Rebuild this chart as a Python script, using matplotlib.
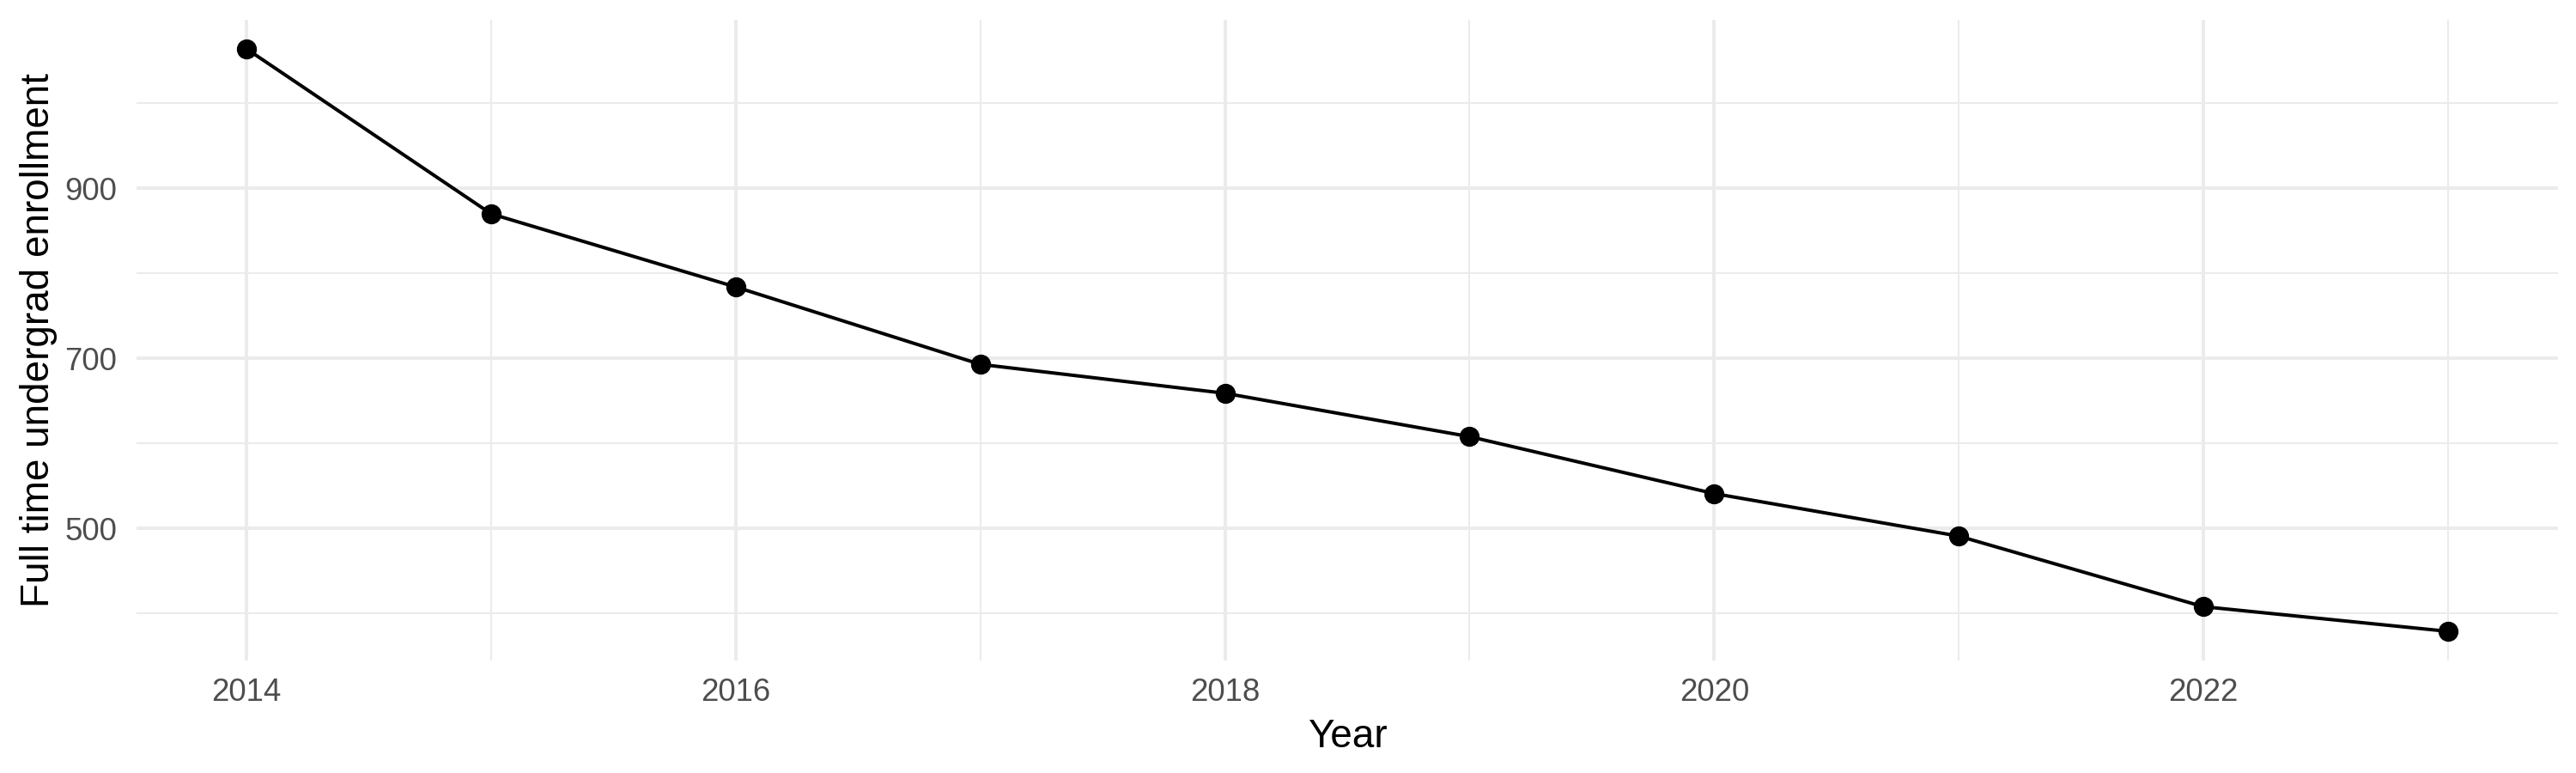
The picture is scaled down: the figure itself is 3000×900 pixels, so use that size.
import matplotlib
matplotlib.use("Agg")
import matplotlib.pyplot as plt
from matplotlib.ticker import MultipleLocator

plt.rcParams['font.family'] = ['Liberation Sans', 'DejaVu Sans']

# Full time undergrad enrollment by year
years = [2014, 2015, 2016, 2017, 2018, 2019, 2020, 2021, 2022, 2023]
enrollment = [1064, 870, 784, 693, 659, 608, 541, 491, 408, 379]

x_ticks = [2014, 2016, 2018, 2020, 2022]
y_ticks = [500, 700, 900]

fig = plt.figure(figsize=(10, 3), dpi=300)
ax = fig.add_axes([0.053, 0.1456, 0.940, 0.8288])

# ggplot-style expansion (5% each side)
xr = max(years) - min(years)
yr = max(enrollment) - min(enrollment)
ax.set_xlim(min(years) - 0.05 * xr, max(years) + 0.05 * xr)
ax.set_ylim(min(enrollment) - 0.05 * yr, max(enrollment) + 0.05 * yr)

ax.set_xticks(x_ticks)
ax.set_yticks(y_ticks)
ax.xaxis.set_minor_locator(MultipleLocator(1))
ax.yaxis.set_minor_locator(MultipleLocator(100))

grid_col = '#EBEBEB'
ax.grid(True, which='major', color=grid_col, linewidth=0.96)
ax.grid(True, which='minor', color=grid_col, linewidth=0.48)
ax.set_axisbelow(True)

for s in ax.spines.values():
    s.set_visible(False)
ax.tick_params(which='both', length=0)
ax.tick_params(axis='y', pad=5.5, labelsize=8.8, labelcolor='#4D4D4D')
ax.tick_params(axis='x', pad=4.8, labelsize=8.8, labelcolor='#4D4D4D')

ax.plot(years, enrollment, color='black', linewidth=0.96, marker='o',
        markersize=4.6, zorder=3)

ax.set_xlabel('Year', fontsize=11, color='black', labelpad=3)
ax.set_ylabel('Full time undergrad enrollment', fontsize=11, color='black', labelpad=2)

fig.savefig('out.png', dpi=300, facecolor='white')
